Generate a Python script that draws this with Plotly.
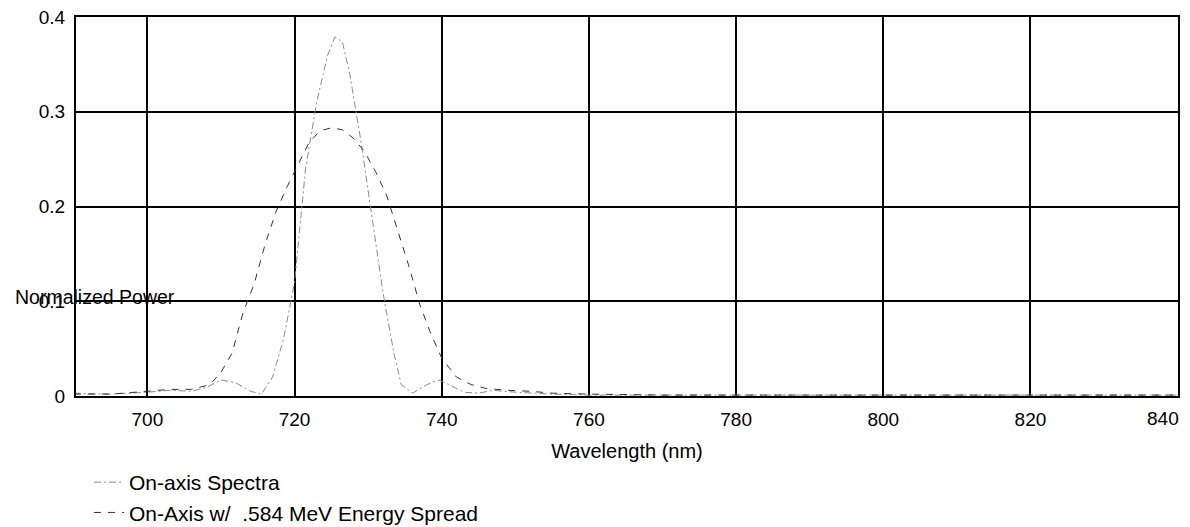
import plotly.graph_objects as go

# Wavelength (nm) and normalized power
onaxis_x = [690, 695, 700, 703, 706, 708, 710, 712, 714, 715.5, 717, 718.5, 720, 721.5, 723, 724.5,
            725.5, 726.5, 727.5, 729, 730.5, 732, 733.5, 734.5, 736, 738, 739.5, 741, 743, 745, 747,
            750, 755, 760, 780, 800, 820, 840]
onaxis_y = [0.003, 0.002, 0.004, 0.006, 0.005, 0.009, 0.017, 0.014, 0.005, 0.002, 0.02, 0.06, 0.12,
            0.24, 0.31, 0.36, 0.379, 0.374, 0.34, 0.27, 0.19, 0.11, 0.045, 0.012, 0.003, 0.012, 0.017,
            0.012, 0.004, 0.003, 0.006, 0.004, 0.002, 0.001, 0.001, 0.001, 0.001, 0.001]

spread_x = [690, 695, 700, 703, 706, 708.5, 710, 711.5, 713, 714.5, 716, 717.5, 719, 720.5, 722, 723.5,
            725, 726.5, 728, 729.5, 731, 732.5, 734, 735.5, 737, 738.5, 740, 742, 744, 746, 749, 752,
            755, 760, 770, 780, 800, 820, 840]
spread_y = [0.002, 0.002, 0.005, 0.007, 0.007, 0.012, 0.025, 0.045, 0.088, 0.118, 0.16, 0.195, 0.221,
            0.245, 0.268, 0.28, 0.283, 0.281, 0.272, 0.258, 0.237, 0.212, 0.175, 0.138, 0.097, 0.066,
            0.04, 0.02, 0.012, 0.008, 0.006, 0.005, 0.003, 0.002, 0.001, 0.001, 0.001, 0.001, 0.001]

series_names = ["On-axis Spectra", "On-Axis w/  .584 MeV Energy Spread"]
x_ticks = [700, 720, 740, 760, 780, 800, 820, 840]
x_tick_text = ["700", "720", "740", "760", "780", "800", "820", "840"]
y_ticks = [0, 0.1, 0.2, 0.3, 0.4]
y_tick_text = ["0", "0.1", "0.2", "0.3", "0.4"]

FONT = "Liberation Sans, Arial, sans-serif"
W, H = 1182, 519  # page body has an 8px margin

fig = go.Figure()
fig.add_trace(go.Scatter(x=onaxis_x, y=onaxis_y, mode="lines", name=series_names[0],
                         line=dict(color="#8a8a8a", width=1, dash="7px,3px,2px,3px")))
fig.add_trace(go.Scatter(x=spread_x, y=spread_y, mode="lines", name=series_names[1],
                         line=dict(color="#333333", width=1, dash="7px,7px")))

# last x tick label sits at the right edge: drawn right-aligned so it stays inside the page
tick_labels_axis = x_tick_text[:-1] + [""]
edge_label = dict(text=x_tick_text[-1], xref="x", yref="paper", x=x_ticks[-1], y=0,
                  xanchor="right", yanchor="top", xshift=3, yshift=-10, showarrow=False,
                  font=dict(size=19, family=FONT))

fig.update_layout(
    width=W, height=H,
    margin=dict(l=68, r=12, t=9, b=131, autoexpand=False),
    paper_bgcolor="white", plot_bgcolor="white",
    font=dict(family=FONT, color="black", size=19),
    showlegend=True,
    legend=dict(xref="container", yref="container", x=81 / W, xanchor="left",
                y=(H - 454) / H, yanchor="top", orientation="v",
                font=dict(size=21, family=FONT), bgcolor="rgba(0,0,0,0)",
                tracegroupgap=0, itemwidth=30),
    xaxis=dict(range=[690.3, 840.05], tickvals=x_ticks, ticktext=tick_labels_axis, showgrid=True,
               gridcolor="black", gridwidth=2,
               showline=True, linecolor="black", linewidth=2, mirror=True, zeroline=False,
               ticks="", ticklabelstandoff=5, tickfont=dict(size=19), automargin=False,
               ticklabeloverflow="allow",
               title=dict(text="Wavelength (nm)", font=dict(size=20), standoff=15)),
    yaxis=dict(range=[0, 0.4], tickvals=y_ticks, ticktext=y_tick_text, showgrid=True,
               gridcolor="black", gridwidth=2, showline=True, linecolor="black", linewidth=2,
               mirror=True, zeroline=False, ticks="", ticklabelstandoff=5, automargin=False,
               ticklabeloverflow="allow", tickfont=dict(size=19)),
    annotations=[dict(text="Normalized Power", xref="paper", yref="y", x=-63 / 1102, y=0.1,
                      xanchor="left", yanchor="middle", yshift=4, showarrow=False,
                      font=dict(size=19.5, family=FONT)),
                 edge_label],
)

fig.write_html("out.html")
